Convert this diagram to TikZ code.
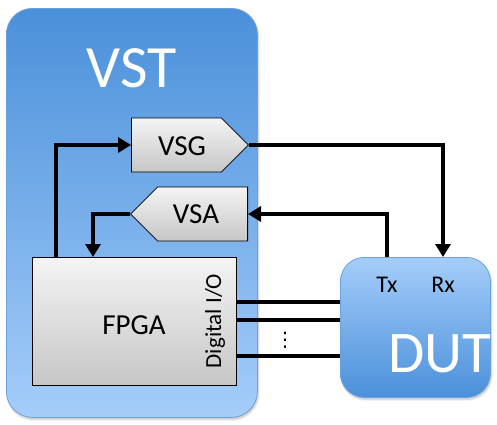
\documentclass[tikz,border=0pt]{standalone}
\usepackage{fontspec}
\setmainfont{Carlito}
\newfontfamily\dejavu{DejaVu Sans}
\usetikzlibrary{shapes.symbols,arrows.meta,shadows.blur}
\definecolor{bluedark}{HTML}{4A90DA}
\definecolor{bluelight}{HTML}{A5CDFA}
\definecolor{blueedge}{HTML}{6AA2DE}
\definecolor{graytop}{HTML}{F4F4F4}
\definecolor{graybot}{HTML}{C6C6C6}
\tikzset{
  vstbox/.style={rectangle, rounded corners=26pt, draw=blueedge, line width=0.8pt,
    top color=bluedark, bottom color=bluelight, inner sep=0pt,
    blur shadow={shadow xshift=1pt, shadow yshift=-2pt, shadow blur steps=6, shadow opacity=25}},
  dutbox/.style={rectangle, rounded corners=24pt, draw=blueedge, line width=0.8pt,
    top color=bluelight, bottom color=bluedark, inner sep=0pt,
    blur shadow={shadow xshift=1pt, shadow yshift=-2pt, shadow blur steps=6, shadow opacity=25}},
  graybox/.style={draw=black, line width=0.8pt, top color=graytop, bottom color=graybot, inner sep=0pt},
  conn/.style={line width=3.6pt, -{Triangle[length=13pt,width=15pt]}},
  wire/.style={line width=3.6pt},
  bigtxt/.style={text=white, font=\fontsize{60}{60}\selectfont, inner sep=0pt},
  midtxt/.style={font=\fontsize{29}{29}\selectfont, inner sep=0pt},
  smalltxt/.style={font=\fontsize{24}{24}\selectfont, inner sep=0pt}
}
\begin{document}
\begin{tikzpicture}[x=1pt,y=-1pt]
\useasboundingbox (0,0) rectangle (497,424);
% VST container
\node[vstbox, minimum width=251pt, minimum height=409pt, anchor=north west] (vst) at (6,8) {};
\node[bigtxt] (vsttitle) at (132,68) {VST};
% VSG
\node[graybox, signal, signal to=east, signal pointer angle=90, minimum width=117pt, minimum height=54pt, anchor=west] (vsg) at (131,145) {};
\node[midtxt] (vsgtxt) at (182,146) {VSG};
% VSA
\node[graybox, signal, signal to=west, signal from=nothing, signal pointer angle=90, minimum width=117pt, minimum height=54pt, anchor=east] (vsa) at (248,214) {};
\node[midtxt] (vsatxt) at (196,214) {VSA};
% FPGA
\node[graybox, rectangle, minimum width=204pt, minimum height=128pt, anchor=north west] (fpga) at (32,257) {};
\node[midtxt] (fpgatxt) at (134,325) {FPGA};
\node[smalltxt, font=\fontsize{23}{23}\selectfont, rotate=90] (dio) at (215,321) {Digital I/O};
% DUT
\node[dutbox, minimum width=150pt, minimum height=140pt, anchor=north west] (dut) at (340,257) {};
\node[smalltxt] (tx) at (387,285) {Tx};
\node[smalltxt] (rx) at (443,285) {Rx};
\node[bigtxt, font=\fontsize{59}{59}\selectfont] (duttxt) at (440,354) {DUT};
% connectors
\draw[conn] ([xshift=24pt]fpga.north west) |- (vsg.west);
\draw[conn] (vsa.west) -| ([xshift=61pt]fpga.north west);
\draw[conn] (vsg.east) -| ([xshift=103pt]dut.north west);
\draw[conn] ([xshift=47pt]dut.north west) |- (vsa.east);
% digital I/O wires
\coordinate (w1) at (0,302);
\coordinate (w2) at (0,320);
\coordinate (w3) at (0,356);
\draw[wire] (fpga.east |- w1) -- (dut.west |- w1);
\draw[wire] (fpga.east |- w2) -- (dut.west |- w2);
\draw[wire] (fpga.east |- w3) -- (dut.west |- w3);
\node[inner sep=0pt, font=\dejavu\fontsize{20}{20}\selectfont] (dots) at (285,340) {⋮};
\end{tikzpicture}
\end{document}
